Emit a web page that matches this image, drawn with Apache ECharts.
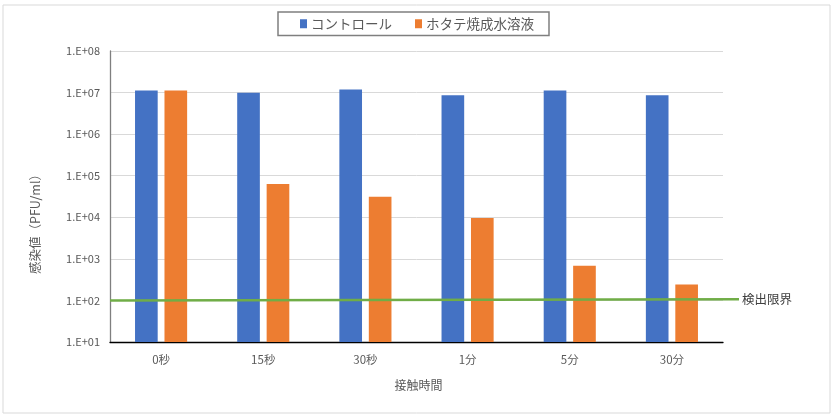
<!DOCTYPE html>
<html>
<head>
<meta charset="utf-8">
<script src="https://cdn.jsdelivr.net/npm/echarts@6/dist/echarts.min.js"></script>
<style>
html,body{margin:0;padding:0;background:#fff;}
#chart{width:835px;height:418px;}
</style>
</head>
<body>
<div id="chart"></div>
<script>
const categories = ['0秒', '15秒', '30秒', '1分', '5分', '30分'];
const controlValues = [11200000, 9900000, 11800000, 8600000, 11200000, 8600000];
const scallopValues = [11200000, 63000, 31000, 9600, 680, 240];
const seriesNames = ['コントロール', 'ホタテ焼成水溶液'];
const limitLine = [[0, 100], [1, 107]];
const limitLabel = '検出限界';
const xAxisTitle = '接触時間';
const yAxisTitle = '感染値（PFU/ml）';

const FONT = '"Noto Sans CJK JP", "Noto Sans", sans-serif';
const chart = echarts.init(document.getElementById('chart'), null, {renderer: 'canvas'});

function fmtExp(v) {
  const e = Math.round(Math.log10(v));
  return '1.E+' + (e < 10 ? '0' + e : e);
}

chart.setOption({
  animation: false,
  backgroundColor: '#fff',
  textStyle: {fontFamily: FONT},
  graphic: [{
    type: 'rect', shape: {x: 3, y: 5, width: 827, height: 408},
    style: {fill: 'none', stroke: '#d9d9d9', lineWidth: 1}, silent: true
  }],
  legend: {
    data: seriesNames,
    left: 278, top: 12,
    padding: [5, 15, 5, 22],
    itemGap: 23,
    itemWidth: 7, itemHeight: 9,
    icon: 'rect',
    borderColor: '#7f7f7f', borderWidth: 1.5,
    textStyle: {color: '#595959', fontSize: 13.5, fontFamily: FONT, padding: [0, 0, 0, -1]}
  },
  grid: [
    {left: 110, right: 112, top: 51, bottom: 76},
    {left: 110, right: 96, top: 51, bottom: 76}
  ],
  xAxis: [{
    gridIndex: 0,
    type: 'category',
    data: categories,
    axisLine: {lineStyle: {color: '#000', width: 1.3}},
    axisTick: {show: false},
    axisLabel: {color: '#595959', fontSize: 11.5, margin: 12, fontFamily: FONT},
    name: xAxisTitle,
    nameLocation: 'middle',
    nameGap: 37,
    nameTextStyle: {color: '#595959', fontSize: 12, fontFamily: FONT, padding: [0, 0, 0, 4]}
  }, {
    gridIndex: 1, type: 'value', min: 0, max: 1, show: false
  }],
  yAxis: [{
    gridIndex: 0,
    type: 'log',
    logBase: 10,
    min: 10, max: 100000000,
    axisLine: {show: true, lineStyle: {color: '#7f7f7f', width: 1.3}},
    axisTick: {show: false},
    splitLine: {lineStyle: {color: '#d9d9d9', width: 1}},
    axisLabel: {color: '#595959', fontSize: 11, margin: 10, formatter: fmtExp, fontFamily: FONT},
    name: yAxisTitle,
    nameLocation: 'middle',
    nameGap: 68,
    nameRotate: 90,
    nameTextStyle: {color: '#595959', fontSize: 12.5, fontFamily: FONT, padding: [0, 49, 0, 0]}
  }, {
    gridIndex: 1, type: 'log', logBase: 10, min: 10, max: 100000000, show: false
  }],
  series: [{
    name: seriesNames[0], type: 'bar',
    xAxisIndex: 0, yAxisIndex: 0,
    data: controlValues,
    itemStyle: {color: '#4472C4'},
    barGap: '30%', barCategoryGap: '49%'
  }, {
    name: seriesNames[1], type: 'bar',
    xAxisIndex: 0, yAxisIndex: 0,
    data: scallopValues,
    itemStyle: {color: '#ED7D31'},
    barGap: '30%', barCategoryGap: '49%'
  }, {
    name: limitLabel, type: 'line',
    xAxisIndex: 1, yAxisIndex: 1,
    data: limitLine,
    symbol: 'none',
    lineStyle: {color: '#70AD47', width: 2.5},
    endLabel: {show: true, formatter: limitLabel, color: '#404040', fontSize: 12.5, distance: 3, fontFamily: FONT},
    z: 5
  }]
});
</script>
</body>
</html>
